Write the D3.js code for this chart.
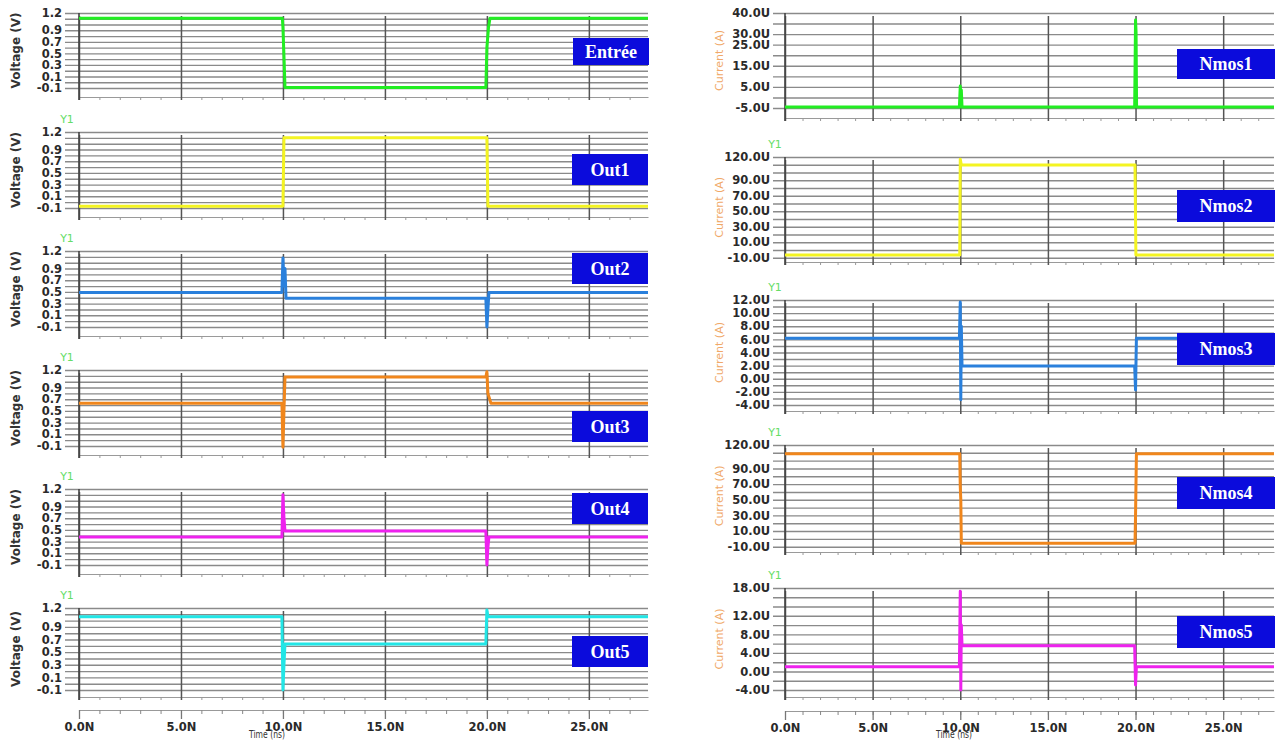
<!DOCTYPE html>
<html><head><meta charset="utf-8">
<script src="https://cdn.jsdelivr.net/npm/d3@7"></script>
<style>body{margin:0;background:#fff}svg{display:block}</style>
</head><body><svg id="c" width="1277" height="740"></svg>
<script>
// ---------- data ----------
const timeTicks = [0, 5, 10, 15, 20, 25];
const timeLabels = ["0.0N", "5.0N", "10.0N", "15.0N", "20.0N", "25.0N"];
const timeMinor = [0,1,2,3,4,5,6,7,8,9,10,11,12,13,14,15,16,17,18,19,20,21,22,23,24,25,26,27];

const voltTicks = [1.2, 0.9, 0.7, 0.5, 0.3, 0.1, -0.1];
const voltLabels = ["1.2", "0.9", "0.7", "0.5", "0.3", "0.1", "-0.1"];
const voltGrid = [1.2, 1.1, 1.0, 0.9, 0.8, 0.7, 0.6, 0.5, 0.4, 0.3, 0.2, 0.1, 0.0, -0.1];

const leftNames = ["Entrée", "Out1", "Out2", "Out3", "Out4", "Out5"];
const leftColors = ["#22ee22", "#f4f422", "#2a80dc", "#f0861c", "#ee22ee", "#22e6e6"];

const entree = [[0,1.11],[9.97,1.11],[10.0,0.95],[10.06,0.35],[10.1,-0.09],[19.95,-0.09],[20.0,0.6],[20.08,0.95],[20.15,1.11],[27.9,1.11]];
const out1 = [[0,-0.07],[10.0,-0.07],[10.05,1.1],[20.0,1.1],[20.05,-0.07],[27.9,-0.07]];
const out2 = [[0,0.49],[9.95,0.49],[10.0,1.08],[10.05,0.6],[10.1,0.9],[10.15,0.39],[19.95,0.39],[20.0,-0.1],[20.05,0.2],[20.1,0.49],[27.9,0.49]];
const out3 = [[0,0.63],[9.95,0.63],[10.0,-0.12],[10.05,0.5],[10.1,1.08],[19.95,1.08],[20.0,1.17],[20.05,0.8],[20.2,0.63],[27.9,0.63]];
const out4 = [[0,0.38],[9.95,0.38],[10.0,1.1],[10.05,0.7],[10.1,0.48],[19.95,0.48],[20.0,-0.1],[20.05,0.2],[20.1,0.38],[27.9,0.38]];
const out5 = [[0,1.06],[9.95,1.06],[10.0,-0.1],[10.05,0.3],[10.1,0.63],[19.95,0.63],[20.0,1.17],[20.05,1.06],[27.9,1.06]];
const leftSeries = [entree, out1, out2, out3, out4, out5];

const rightNames = ["Nmos1", "Nmos2", "Nmos3", "Nmos4", "Nmos5"];
const rightColors = ["#22ee22", "#f4f422", "#2a80dc", "#f0861c", "#ee22ee"];
const nmos1Ticks = [40, 30, 25, 15, 5, -5];
const nmos1Labels = ["40.0U", "30.0U", "25.0U", "15.0U", "5.0U", "-5.0U"];
const nmos1Grid = [40, 35, 30, 25, 20, 15, 10, 5, 0, -5];
const nmos2Ticks = [120, 90, 70, 50, 30, 10, -10];
const nmos2Labels = ["120.0U", "90.0U", "70.0U", "50.0U", "30.0U", "10.0U", "-10.0U"];
const nmos2Grid = [120, 110, 100, 90, 80, 70, 60, 50, 40, 30, 20, 10, 0, -10];
const nmos3Ticks = [12, 10, 8, 6, 4, 2, 0, -2, -4];
const nmos3Labels = ["12.0U", "10.0U", "8.0U", "6.0U", "4.0U", "2.0U", "0.0U", "-2.0U", "-4.0U"];
const nmos3Grid = [12, 11, 10, 9, 8, 7, 6, 5, 4, 3, 2, 1, 0, -1, -2, -3, -4];
const nmos5Ticks = [18, 12, 8, 4, 0, -4];
const nmos5Labels = ["18.0U", "12.0U", "8.0U", "4.0U", "0.0U", "-4.0U"];
const nmos5Grid = [18, 16, 14, 12, 10, 8, 6, 4, 2, 0, -2, -4];

const nmos1 = [[0,-4.5],[9.95,-4.5],[10.0,5.4],[10.03,-4.5],[10.06,3.5],[10.1,-4.5],[19.95,-4.5],[20.0,36.7],[20.03,31],[20.06,-4.5],[27.9,-4.5]];
const nmos2 = [[0,-6.5],[9.97,-6.5],[10.0,117],[10.06,109.7],[19.97,109.7],[20.02,-6.5],[27.9,-6.5]];
const nmos3 = [[0,6.16],[9.95,6.16],[10.0,11.7],[10.03,-3.2],[10.06,8],[10.1,1.94],[19.95,1.94],[20.0,-1.7],[20.05,6.16],[27.9,6.16]];
const nmos4 = [[0,108.9],[9.97,108.9],[10.0,66.7],[10.03,50],[10.06,-5.7],[19.97,-5.7],[20.0,30],[20.05,108.9],[27.9,108.9]];
const nmos5 = [[0,1.04],[9.95,1.04],[10.0,17.3],[10.03,-4],[10.06,10],[10.1,5.52],[19.95,5.52],[20.0,-2.9],[20.05,1.04],[27.9,1.04]];
const rightSeries = [nmos1, nmos2, nmos3, nmos4, nmos5];
const rightTicks = [nmos1Ticks, nmos2Ticks, nmos3Ticks, nmos2Ticks, nmos5Ticks];
const rightLabels = [nmos1Labels, nmos2Labels, nmos3Labels, nmos2Labels, nmos5Labels];
const rightGrid = [nmos1Grid, nmos2Grid, nmos3Grid, nmos2Grid, nmos5Grid];
const rightDomains = [[-5, 40], [-10, 120], [-4, 12], [-10, 120], [-4, 18]];

// ---------- layout ----------
const svg = d3.select("#c");
const T_MAX = 27.9;
const L = { x0: 79, x1: 648, gx0: 65, labelX: 62, tops: [13,132,251,370,489,608], bots: [88,208,327,446,565,690], axes: [97,217,336,455,574,697],
  boxes: [[573,38,76,27],[572,154,76,31],[572,253,76,31],[572,411,76,31],[572,493,76,31],[572,636,76,31]], y1X: 67, titleX: 16,
  timeAxisY: 710, timeTitleX: 267 };
const R = { x0: 785, x1: 1274, gx0: 773, labelX: 770, tops: [13,157,300,445,588], bots: [108,257.7,405,546.7,690], axes: [118,262,411,552,697],
  boxes: [[1177,49,98,30],[1177,190,98,32],[1177,333,98,32],[1177,477,98,32],[1177,616,98,32]], y1X: 775, titleX: 719,
  timeAxisY: 711, timeTitleX: 954 };

const tickFont = "'DejaVu Sans', Verdana, sans-serif";

function drawPanel(lay, i, domain, ticks, labels, grid, series, color, name, leftSide) {
  const x = d3.scaleLinear().domain([0, T_MAX]).range([lay.x0, lay.x1]);
  const y = d3.scaleLinear().domain(domain).range([lay.bots[i], lay.tops[i]]);
  const g = svg.append("g");
  const axisY = lay.axes[i];

  // horizontal grid
  const gridAxis = d3.axisLeft(y).tickValues(grid).tickSize(-(lay.x1 - lay.gx0)).tickFormat("");
  const gg = g.append("g").attr("transform", `translate(${lay.gx0},0)`).call(gridAxis);
  gg.select(".domain").remove();
  gg.selectAll(".tick line").attr("stroke", "#8a8a8a").attr("stroke-width", 1.4);

  // bottom axis line with minor ticks
  const minorAxis = d3.axisBottom(x).tickValues(timeMinor).tickSize(3).tickFormat("").tickSizeOuter(0);
  const ma = g.append("g").attr("transform", `translate(0,${axisY})`).call(minorAxis);
  ma.select(".domain").attr("stroke", "#9a9a9a").attr("stroke-width", 1.2);
  ma.selectAll(".tick line").attr("stroke", "#999");

  // vertical major grid
  const vAxis = d3.axisBottom(x).tickValues(timeTicks).tickSize(-(axisY - lay.tops[i])).tickFormat("").tickSizeOuter(0);
  const va = g.append("g").attr("transform", `translate(0,${axisY + 3})`).call(vAxis);
  va.select(".domain").remove();
  va.selectAll(".tick line").attr("stroke", "#555").attr("stroke-width", 1.5);

  // left vertical axis line
  g.append("line").attr("x1", lay.x0).attr("x2", lay.x0).attr("y1", lay.tops[i]).attr("y2", axisY + 3)
    .attr("stroke", "#444").attr("stroke-width", 1.6);

  // tick labels
  const labAxis = d3.axisLeft(y).tickValues(ticks).tickSize(0).tickPadding(0).tickFormat((d, k) => labels[k]);
  const la = g.append("g").attr("transform", `translate(${lay.labelX},0)`).call(labAxis);
  la.select(".domain").remove();
  la.selectAll("text").attr("font-family", tickFont).attr("font-weight", "bold")
    .attr("font-size", 11.5).attr("fill", "#2a2a2a");

  // series
  const line = d3.line().x(d => x(d[0])).y(d => y(d[1]));
  g.append("path").datum(series).attr("d", line).attr("fill", "none")
    .attr("stroke", color).attr("stroke-width", 3).attr("stroke-linejoin", "round");

  // label box
  const b = lay.boxes[i];
  g.append("rect").attr("x", b[0]).attr("y", b[1]).attr("width", b[2]).attr("height", b[3]).attr("fill", "#0b0bdc");
  g.append("text").attr("x", b[0] + b[2] / 2).attr("y", b[1] + b[3] / 2 + 6).attr("text-anchor", "middle")
    .attr("font-family", "'Liberation Serif', 'Times New Roman', serif").attr("font-weight", "bold")
    .attr("font-size", 18).attr("fill", "#fff").text(name);

  // Y1 marker
  if (i > 0) {
    g.append("text").attr("x", lay.y1X).attr("y", lay.tops[i] - 9).attr("text-anchor", "middle")
      .attr("font-family", tickFont).attr("font-size", 11).attr("fill", "#66dd66").text("Y1");
  }

  // y title
  const cy = (lay.tops[i] + lay.bots[i]) / 2;
  if (leftSide) {
    g.append("text").attr("transform", `translate(${lay.titleX + 4},${cy}) rotate(-90)`).attr("text-anchor", "middle")
      .attr("font-family", tickFont).attr("font-weight", "bold").attr("font-size", 12).attr("fill", "#333")
      .text("Voltage (V)");
  } else {
    g.append("text").attr("transform", `translate(${lay.titleX + 4},${cy}) rotate(-90)`).attr("text-anchor", "middle")
      .attr("font-family", tickFont).attr("font-size", 11).attr("fill", "#f0a868")
      .text("Current (A)");
  }
}

function drawTimeAxis(lay) {
  const x = d3.scaleLinear().domain([0, T_MAX]).range([lay.x0, lay.x1]);
  const g = svg.append("g");
  const minor = d3.axisBottom(x).tickValues(timeMinor).tickSize(4).tickFormat("").tickSizeOuter(0);
  const m = g.append("g").attr("transform", `translate(0,${lay.timeAxisY})`).call(minor);
  m.select(".domain").attr("stroke", "#999").attr("stroke-width", 1.2);
  m.selectAll(".tick line").attr("stroke", "#888");
  const major = d3.axisBottom(x).tickValues(timeTicks).tickSize(9).tickPadding(3)
    .tickFormat((d, k) => timeLabels[k]).tickSizeOuter(0);
  const M = g.append("g").attr("transform", `translate(0,${lay.timeAxisY})`).call(major);
  M.select(".domain").remove();
  M.selectAll(".tick line").attr("stroke", "#777").attr("stroke-width", 1.3);
  M.selectAll("text").attr("font-family", tickFont).attr("font-weight", "bold").attr("font-size", 11.5)
    .attr("fill", "#2a2a2a").attr("dy", "0.8em");
  g.append("text").attr("x", lay.timeTitleX).attr("y", 738).attr("text-anchor", "middle")
    .attr("font-family", "'DejaVu Sans Condensed', 'DejaVu Sans', sans-serif").attr("font-size", 10)
    .attr("fill", "#333").attr("transform", `translate(${lay.timeTitleX},0) scale(0.85,1) translate(${-lay.timeTitleX},0)`)
    .text("Time (ns)");
}

leftSeries.forEach((s, i) => drawPanel(L, i, [-0.1, 1.2], voltTicks, voltLabels, voltGrid, s, leftColors[i], leftNames[i], true));
rightSeries.forEach((s, i) => drawPanel(R, i, rightDomains[i], rightTicks[i], rightLabels[i], rightGrid[i], s, rightColors[i], rightNames[i], false));
drawTimeAxis(L);
drawTimeAxis(R);
</script></body></html>
